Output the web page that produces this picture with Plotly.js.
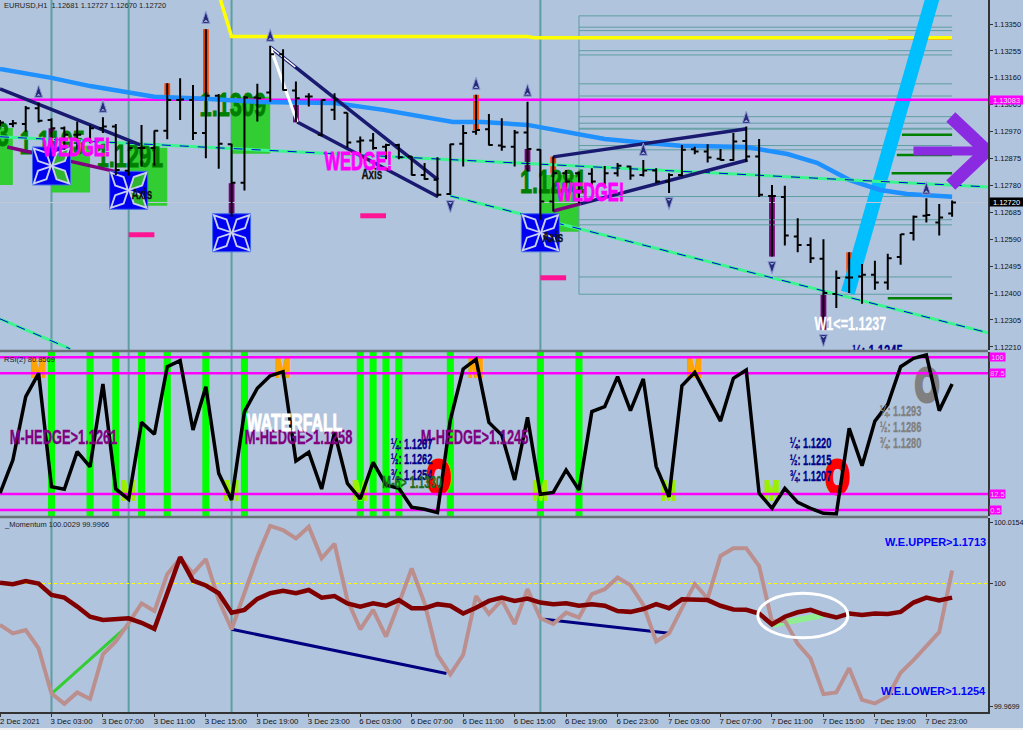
<!DOCTYPE html>
<html><head><meta charset="utf-8">
<script src="https://cdn.plot.ly/plotly-3.0.1.min.js"></script>
<style>html,body{margin:0;padding:0;background:#B0C4DE}#c{width:1023px;height:730px}</style>
</head><body><div id="c"></div>
<script>
// ---- data; bar index 0 = 3 Dec 03:00, one bar per hour of trading
const open=[1.13000,1.12997,1.12997,1.13053,1.13011,1.12982,1.12959,1.12941,1.12982,1.12988,1.12832,1.12912,1.12912,1.12973,1.13082,1.13082,1.12965,1.13097,1.12926,1.12790,1.13091,1.13108,1.13243,1.13115,1.13094,1.12959,1.13047,1.13037,1.12935,1.12939,1.12917,1.12923,1.12882,1.12817,1.12800,1.12750,1.12927,1.12970,1.12979,1.12921,1.12917,1.12967,1.12906,1.12723,1.12823,1.12823,1.12821,1.12782,1.12823,1.12847,1.12817,1.12833,1.12794,1.12817,1.12908,1.12900,1.12874,1.12870,1.12937,1.12882,1.12743,1.12739,1.12600,1.12570,1.12521,1.12397,1.12455,1.12459,1.12465,1.12437,1.12527,1.12612,1.12673,1.12649,1.12681];
const high=[1.13011,1.13011,1.13061,1.13073,1.13017,1.12988,1.13006,1.12994,1.13021,1.12997,1.12935,1.12994,1.12974,1.13141,1.13159,1.13135,1.13332,1.13103,1.12927,1.13096,1.13139,1.13273,1.13261,1.13147,1.13106,1.13084,1.13106,1.13037,1.12953,1.12965,1.12927,1.12927,1.12884,1.12859,1.12880,1.12927,1.12994,1.13100,1.13032,1.13017,1.12976,1.13076,1.12908,1.12882,1.12835,1.12829,1.12841,1.12849,1.12859,1.12850,1.12870,1.12841,1.12823,1.12923,1.12917,1.12926,1.12909,1.12965,1.12988,1.12944,1.12782,1.12779,1.12664,1.12596,1.12590,1.12480,1.12544,1.12503,1.12514,1.12539,1.12609,1.12674,1.12735,1.12715,1.12727];
const low=[1.12990,1.12986,1.12970,1.13002,1.12917,1.12906,1.12906,1.12929,1.12965,1.12817,1.12814,1.12847,1.12850,1.12943,1.13011,1.12941,1.12876,1.12839,1.12670,1.12762,1.13006,1.13076,1.13115,1.13003,1.13059,1.12953,1.13011,1.12912,1.12882,1.12906,1.12873,1.12873,1.12815,1.12800,1.12741,1.12747,1.12847,1.12959,1.12921,1.12903,1.12847,1.12829,1.12659,1.12688,1.12753,1.12717,1.12782,1.12776,1.12812,1.12800,1.12812,1.12788,1.12753,1.12812,1.12890,1.12861,1.12868,1.12867,1.12864,1.12739,1.12529,1.12568,1.12544,1.12506,1.12270,1.12347,1.12400,1.12362,1.12412,1.12412,1.12500,1.12586,1.12649,1.12603,1.12670];
const close=[1.13002,1.13000,1.13053,1.13009,1.12982,1.12959,1.12959,1.12982,1.12988,1.12835,1.12912,1.12912,1.12973,1.13082,1.13084,1.12965,1.13097,1.12927,1.12790,1.13091,1.13088,1.13243,1.13117,1.13088,1.13094,1.13082,1.13084,1.12932,1.12939,1.12912,1.12923,1.12880,1.12817,1.12803,1.12747,1.12926,1.12965,1.12976,1.12923,1.12917,1.12967,1.12909,1.12723,1.12823,1.12794,1.12759,1.12794,1.12823,1.12850,1.12815,1.12833,1.12794,1.12817,1.12906,1.12900,1.12879,1.12870,1.12935,1.12882,1.12747,1.12743,1.12603,1.12570,1.12523,1.12400,1.12453,1.12455,1.12465,1.12437,1.12523,1.12608,1.12670,1.12676,1.12667,1.12720];
const rsi=[12.9,33.6,73,87.5,17,15.4,38.8,29.4,80.8,15.6,9.2,57,49.6,91.6,95.4,52.3,79.2,25.3,8.7,63.7,78.2,86,88.5,33,38.4,15.6,50.8,19.1,9.4,32.2,18.1,16,4.2,3,0.9,58.5,90.2,96.2,57,49.1,21.2,60.1,12.3,13.5,27.4,15,63.7,66.8,85.4,64.3,84,29.5,10.8,79.8,88.1,73,57.8,84.4,89.6,12.9,3.6,16,7.3,3.6,0.5,0.1,53.3,30.1,57.8,68.2,91.6,96.8,98.9,64.3,80.9];
const momentum=[99.9900,99.9879,99.9887,99.9842,99.9731,99.9705,99.9733,99.9717,99.9827,99.9859,99.9904,99.9953,99.9934,100.0025,100.0064,100.0027,100.0062,99.9961,99.9889,99.9978,100.0068,100.0144,100.0134,100.0113,100.0142,100.0064,100.0100,99.9961,99.9889,99.9937,99.9871,99.9953,100.0039,99.9953,99.9826,99.9778,99.9826,99.9971,99.9927,99.9961,99.9902,99.9988,99.9916,99.9902,99.9930,99.9918,99.9976,99.9988,100.0017,99.9998,99.9949,99.9859,99.9879,99.9941,100.0001,99.9965,100.0070,100.0089,100.0089,100.0045,99.9908,99.9910,99.9853,99.9817,99.9729,99.9733,99.9793,99.9715,99.9706,99.9723,99.9782,99.9813,99.9846,99.9882,100.0034];
const momSignal=[100.0004,100.0000,100.0008,100.0002,99.9974,99.9967,99.9945,99.9920,99.9912,99.9914,99.9916,99.9905,99.9890,99.9978,100.0067,100.0009,99.9997,99.9978,99.9930,99.9937,99.9964,99.9978,99.9984,99.9978,99.9986,99.9967,99.9971,99.9953,99.9945,99.9953,99.9947,99.9961,99.9941,99.9941,99.9951,99.9947,99.9928,99.9942,99.9959,99.9967,99.9959,99.9965,99.9955,99.9951,99.9953,99.9947,99.9951,99.9947,99.9934,99.9932,99.9939,99.9951,99.9941,99.9963,99.9963,99.9961,99.9947,99.9938,99.9937,99.9928,99.9901,99.9920,99.9931,99.9937,99.9926,99.9918,99.9928,99.9924,99.9928,99.9927,99.9932,99.9955,99.9967,99.9960,99.9967];
const firstBar=-4;
const xTickBars=[-4,0,4,8,12,16,20,24,28,32,36,40,44,48,52,56,60,64,68];
const xTickLabels=["2 Dec 2021","3 Dec 03:00","3 Dec 07:00","3 Dec 11:00","3 Dec 15:00","3 Dec 19:00","3 Dec 23:00","6 Dec 03:00","6 Dec 07:00","6 Dec 11:00","6 Dec 15:00","6 Dec 19:00","6 Dec 23:00","7 Dec 03:00","7 Dec 07:00","7 Dec 11:00","7 Dec 15:00","7 Dec 19:00","7 Dec 23:00"];
const priceTicks=[1.13350,1.13255,1.13160,1.13065,1.12970,1.12875,1.12780,1.12685,1.12590,1.12495,1.12400,1.12305,1.12210];
const rsiLevels=[97.5,87.5,12.5,2.5];
const rsiLevelLabels=["100","87.5","12.5","0.5"];
const vLineBars=[0,6,14,38];
const orangeBars=[9,12,33,39,62], orangeTop=[1.13141,1.13332,1.13100,1.12882,1.12544], orangeBottom=[1.13094,1.13097,1.12976,1.12823,1.12455];
const purpleBars=[0,14,19,37,56,60], purpleTop=[1.12982,1.12788,1.13064,1.12909,1.12741,1.12394], purpleBottom=[1.12917,1.12670,1.13003,1.12829,1.12529,1.12270];
const zoneCenters=[-4.5,1.5,7.5,15.5,39.5], zoneTop=[1.12983,1.12920,1.12913,1.13093,1.12817], zoneBottom=[1.12782,1.12755,1.12708,1.12892,1.12617];
const signalBars=[0,3,5,7,9,12,15,24,25,26,27,31,38,41];
const maBars=[-4,0,3,6,8,12,16,22,25.8,31.2,33.5,37,41,43,46.3,48.9,54,57.2,59.5,62,64.4,66.5,70];
const maValues=[1.13191,1.13160,1.13131,1.13107,1.13093,1.13086,1.13075,1.13071,1.13047,1.13004,1.13004,1.12994,1.12959,1.12944,1.12930,1.12920,1.12916,1.12891,1.12860,1.12800,1.12764,1.12750,1.12740];
const fibLevels=[1.13379,1.13339,1.13327,1.13256,1.13241,1.13139,1.13096,1.13023,1.13000,1.12982,1.12979,1.12921,1.12906,1.12741,1.12659,1.12641,1.12457,1.12396];
const greenLevelStart=[66.1,65.7,65.3,65], greenLevels=[1.12959,1.12888,1.12823,1.12382];
const fractalUpBars=[-1,4,12,17,33,37,46,54,68], fractalUp=[1.13135,1.13082,1.13396,1.13333,1.13163,1.13139,1.12930,1.13043,1.12793];
const fractalDownBars=[31,56,60,48], fractalDown=[1.12683,1.12468,1.12210,1.12694];
const iconBars=[0,6,14,38], iconPrices=[1.12849,1.12763,1.12613,1.12613];
const pinkStart=[6,24,38], pinkEnd=[8,26,40], pinkLevels=[1.12606,1.12673,1.12454];

// ---- trace helpers
const barIndex=open.map((_,k)=>k+firstBar);
const BOLD='Liberation Sans', X0=-4, X1=72.79, BG='#B0C4DE';
const T=[];
function seg(x,y,color,width,axis,dash){T.push({type:'scatter',mode:'lines',x:x,y:y,yaxis:axis||'y',line:{color:color,width:width,dash:dash||'solid'},hoverinfo:'skip',connectgaps:false});}
function blocks(x,top,bottom,color,w,axis){T.push({type:'bar',x:x,base:bottom,y:top.map((t,k)=>t-bottom[k]),width:w,yaxis:axis||'y',marker:{color:color,line:{width:0}},hoverinfo:'skip'});}
function label(x,y,text,color,size,axis){T.push({type:'scatter',mode:'text',x:x,y:y,text:text,yaxis:axis||'y',textposition:'middle center',textfont:{family:BOLD,size:size,color:color,weight:700},hoverinfo:'skip'});}

// price panel: under-layer
blocks(zoneCenters,zoneTop,zoneBottom,'#32CD32',3);
blocks(orangeBars,orangeTop,orangeBottom,'#FF4500',0.45);
blocks(purpleBars,purpleTop,purpleBottom,'#800080',0.45);
label([-5.9,0.06,6.1,14.1,39],[1.12950,1.12920,1.12874,1.13054,1.12782],["1.1283","1.1195","1.1291","1.1309","1.1281"],'#008000',33);
// fibo
{const fx=[],fy=[];fibLevels.forEach(v=>{fx.push(41,70,null);fy.push(v,v,null);});fx.push(41,41);fy.push(fibLevels[0],fibLevels[fibLevels.length-1]);seg(fx,fy,'#5F9EA0',1);}
{const gx=[],gy=[];greenLevels.forEach((v,k)=>{gx.push(greenLevelStart[k],70,null);gy.push(v,v,null);});seg(gx,gy,'#008000',2.5);}
seg([65,70],[1.13296,1.13296],'#E8742A',1.5);
seg([13,14,37,37.5,70],[1.13456,1.13306,1.13306,1.13302,1.13302],'#FFFF00',3.5);
seg([61.9,68.97],[1.12401,1.13520],'#00BFFF',14);
seg([X0,X1],[1.13083,1.13083],'#FF00FF',2.5);
seg([X0,X1],[1.12720,1.12720],'#C0C8D8',1);
seg(maBars,maValues,'#1E90FF',4.5);
// channel lines
[[[X0,72.79],[1.12952,1.12775]],[[31,72.79],[1.12743,1.12260]],[[X0,1.46],[1.12309,1.12203]]].forEach(l=>{seg(l[0],l[1],'#3CF58E',3);seg(l[0],l[1],'#0000E0',1,'y','dash');});
// wedges
seg([X0,6.9],[1.13121,1.12923],'#191970',3.5);
seg([-3.43,5.1],[1.12916,1.12828],'#800080',3.5);
seg([17,30.05],[1.13269,1.12800],'#191970',3.5);
seg([19.1,30.05],[1.13004,1.12740],'#191970',3.5);
seg([17,19.1],[1.13269,1.13004],'#FFFFFF',3);
seg([17,18.95],[1.13269,1.13199],'#FFFFFF',1.5);
seg([39,54.05],[1.12881,1.12980],'#191970',3.5);
seg([41.1,54.1],[1.12715,1.12870],'#191970',3.5);
seg([39,41.1],[1.12690,1.12715],'#800080',3.5);
// pink dashes
pinkLevels.forEach((v,k)=>seg([pinkStart[k],pinkEnd[k]],[v,v],'#FF1493',5));
// big purple arrow
seg([67,72.7],[1.12902,1.12902],'#8A2BE2',9);
seg([69.9,72.7,69.9],[1.13022,1.12902,1.12782],'#8A2BE2',13);
// fractal arrows, each with a notch cut in its tail
T.push({type:'scatter',mode:'markers',x:fractalUpBars,y:fractalUp,marker:{symbol:'arrow',size:13,color:'#27297A',line:{color:'#8C9BD0',width:1}},hoverinfo:'skip'});
T.push({type:'scatter',mode:'markers',x:fractalDownBars,y:fractalDown,marker:{symbol:'arrow',angle:180,size:13,color:'#27297A',line:{color:'#8C9BD0',width:1}},hoverinfo:'skip'});
T.push({type:'scatter',mode:'markers',x:fractalUpBars,y:fractalUp.map(p=>p-0.00031),marker:{symbol:'arrow-wide',size:4.5,color:BG},hoverinfo:'skip'});
T.push({type:'scatter',mode:'markers',x:fractalDownBars,y:fractalDown.map(p=>p+0.00031),marker:{symbol:'arrow-wide',angle:180,size:4.5,color:BG},hoverinfo:'skip'});
// blue icons
T.push({type:'scatter',mode:'markers',x:iconBars,y:iconPrices,marker:{symbol:'square',size:38,color:'#0000F0',line:{color:'#3F6AE8',width:1}},hoverinfo:'skip'});
[[-1,1,-45],[1,1,45],[-1,-1,45],[1,-1,-45]].forEach(q=>{
  const lx=iconBars.map(b=>b+q[0]*0.72), ly=iconPrices.map(p=>p+q[1]*0.00032);
  T.push({type:'scatter',mode:'markers',x:lx,y:ly,marker:{symbol:'diamond-tall',angle:q[2],size:20,color:'#C8D0F0'},hoverinfo:'skip'});
  T.push({type:'scatter',mode:'markers',x:lx,y:ly,marker:{symbol:'diamond-tall',angle:q[2],size:14,color:iconBars.map(b=>(q[0]>0&&b<10)?'#2FB52F':'#0000F0')},hoverinfo:'skip'});
});
// bars above everything in the price panel
T.push({type:'ohlc',x:barIndex,open:open,high:high,low:low,close:close,yaxis:'y4',tickwidth:0.3,increasing:{line:{color:'#000000',width:2}},decreasing:{line:{color:'#000000',width:2}},hoverinfo:'skip'});
label([64.2],[1.12189],["¼: 1.1245"],'#00008B',17);

// RSI panel
T.push({type:'bar',x:signalBars,y:signalBars.map(()=>104),base:signalBars.map(()=>-2),width:0.55,yaxis:'y2',marker:{color:'#00FF00',line:{width:0}},hoverinfo:'skip'});
label([-1,18,33,50],[89.6,89.6,89.6,89.6],["M","M","M","M"],'#FFA500',28,'y2');
label([6,14,24,38,48,56],[13.2,13.2,13.2,13.2,13.2,13.2],["M","M","M","M","M","M"],'#9AF000',28,'y2');
label([30.1,61.1],[20.3,20.3],["O","O"],'#FF0000',46,'y2');
label([68.05],[77.7],["O"],'#808080',46,'y2');
rsiLevels.forEach(v=>seg([X0,X1],[v,v],'#FF00FF',2.5,'y2'));
seg(barIndex,rsi,'#000000',3.5,'y2');

// Momentum panel
seg([X0,X1],[100.0002,100.0002],'#FFFF00',1,'y3','3px,3px');
seg([0.1,6],[99.9733,99.9900],'#32CD32',3,'y3');
seg([14,30.7],[99.9889,99.9780],'#000080',3,'y3');
seg([38.3,48],[99.9914,99.9879],'#000080',3,'y3');
seg([56,60],[99.9900,99.9924],'#90EE90',6,'y3');
seg(barIndex,momentum,'#BC8F8F',4,'y3');
seg(barIndex,momSignal,'#800000',4.5,'y3');

// ---- annotations
function A(x,y,text,color,size,yref,extra){return Object.assign({x:x,y:y,xref:'x',yref:yref||'y',text:text,showarrow:false,font:{family:BOLD,size:size,color:color,weight:700},xanchor:'center',yanchor:'middle'},extra||{});}
function tag(text,bg,fg,yref,val,extra){return Object.assign({xref:'paper',yref:yref,x:1,y:val,xanchor:'left',yanchor:'middle',xshift:1,text:text,showarrow:false,bgcolor:bg,borderpad:0,font:{family:'Liberation Sans',size:7.5,color:fg}},extra||{});}
function head(text,paperY){return {xref:'paper',yref:'paper',x:0,y:paperY,xanchor:'left',yanchor:'middle',xshift:2,text:text,showarrow:false,font:{family:'Liberation Sans',size:7.5,color:'#222222'}};}
const ann=[
 head('EURUSD,H1  1.12681 1.12727 1.12670 1.12720',1-6/712),
 head('RSI(2) 80.8569',1-359/712),
 head('_Momentum 100.0029 99.9966',1-524/712),
 A(1.93,1.12916,'WEDGE!','#FF00FF',25),A(23.9,1.12867,'WEDGE!','#FF00FF',25),A(41.9,1.12757,'WEDGE!','#FF00FF',25),
 A(24.9,1.12821,'Axis','#111111',15),A(7.05,1.12750,'Axis','#111111',15),A(39,1.12599,'Axis','#111111',15),
 A(62.07,1.12292,'W1<=1.1237','#FFFFFF',19),
 A(0.96,47.9,'M-HEDGE>1.1261','#800080',19.5,'y2'),A(19.2,47.9,'M-HEDGE>1.1258','#800080',19.5,'y2'),A(32.9,47.9,'M-HEDGE>1.1245','#800080',19.5,'y2'),
 A(18.9,57.2,'WATERFALL','#FFFFFF',24,'y2'),
 A(27.96,43.6,'¼: 1.1267','#00008B',14,'y2'),A(27.96,34.2,'½: 1.1262','#00008B',14,'y2'),A(27.96,24.3,'¾: 1.1254','#00008B',14,'y2'),
 A(28,19.9,'M-6> 1.1330','#1F6B1F',16,'y2'),
 A(59,44.2,'¼: 1.1220','#00008B',14,'y2'),A(59,33.6,'½: 1.1215','#00008B',14,'y2'),A(59,23.7,'¾: 1.1207','#00008B',14,'y2'),
 A(66,64.1,'¼: 1.1293','#808080',14,'y2'),A(66,54.1,'½: 1.1286','#808080',14,'y2'),A(66,44.2,'¾: 1.1280','#808080',14,'y2'),
 A(72.79,100.0104,'W.E.UPPER>1.1713','#0000FF',11,'y3',{xanchor:'right'}),
 A(72.79,99.9737,'W.E.LOWER>1.1254','#0000FF',11,'y3',{xanchor:'right'}),
 tag('1.13083','#FF00FF','#E8E0F0','y',1.13083,{width:33,height:8}),
 tag('1.12720','#000000','#FFFFFF','y',1.12720,{width:33,height:8}),
 tag(rsiLevelLabels[0],'#FF00FF','#D8D0E8','y2',rsiLevels[0],{width:15,height:8}),
 tag(rsiLevelLabels[1],'#FF00FF','#D8D0E8','y2',rsiLevels[1],{width:15,height:8}),
 tag(rsiLevelLabels[2],'#FF00FF','#D8D0E8','y2',rsiLevels[2],{width:15,height:8}),
 tag(rsiLevelLabels[3],'#FF00FF','#D8D0E8','y2',rsiLevels[3],{width:11,height:8})
];

const shapes=vLineBars.map(b=>({type:'line',layer:'below',xref:'x',yref:'paper',x0:b,x1:b,y0:0,y1:1,line:{color:'#5F9EA0',width:2}}));
[351,517].forEach(py=>shapes.push({type:'line',layer:'above',xref:'paper',yref:'paper',x0:0,x1:1,y0:1-py/712,y1:1-py/712,line:{color:'#6A7078',width:2.5}}));
shapes.push({type:'circle',layer:'above',xref:'x',yref:'y3',x0:54.9,x1:61.9,y0:99.9868,y1:99.9978,line:{color:'#FFFFFF',width:3}});
shapes.push({type:'rect',layer:'above',xref:'paper',yref:'paper',x0:0,x1:1.05,y0:-18/712,y1:-16/712,line:{width:0},fillcolor:'#F0F0F0'});

const tf={family:'Liberation Sans',size:7.5,color:'#111111'};
const yBase={side:'right',anchor:'x',showgrid:false,zeroline:false,showline:true,linecolor:'#333333',linewidth:1.5,ticks:'outside',ticklen:3,tickcolor:'#333333',tickfont:tf,tickmode:'array',fixedrange:true};
const priceRange=[1.12199,1.13435];
const layout={
 width:1023,height:730,margin:{l:0,r:35,t:0,b:18,pad:0},
 paper_bgcolor:BG,plot_bgcolor:BG,showlegend:false,barmode:'overlay',
 xaxis:{range:[X0,X1],anchor:'y3',domain:[0,1],showgrid:false,zeroline:false,showline:true,linecolor:'#333333',linewidth:1.5,ticks:'outside',ticklen:3,tickcolor:'#333333',tickmode:'array',tickvals:xTickBars,ticktext:xTickLabels,tickangle:0,tickfont:Object.assign({},tf,{size:7.8}),ticklabelshift:20,ticklabelstandoff:-2,ticklabeloverflow:'allow',rangeslider:{visible:false},fixedrange:true},
 yaxis:Object.assign({},yBase,{domain:[1-350/712,1],range:priceRange,tickvals:priceTicks,ticktext:priceTicks.map(v=>v.toFixed(5))}),
 yaxis2:Object.assign({},yBase,{domain:[1-516/712,1-352/712],range:[-1.19,100.74],tickvals:[],showticklabels:false}),
 yaxis3:Object.assign({},yBase,{domain:[0,1-518/712],range:[99.96849,100.01636],tickvals:[100.0153,100.0002,99.9698],ticktext:['100.0154','100','99.9699'],tickfont:Object.assign({},tf,{size:7.1})}),
 yaxis4:{overlaying:'y',side:'right',anchor:'x',range:priceRange,visible:false,fixedrange:true},
 annotations:ann,shapes:shapes
};
Plotly.newPlot('c',T,layout,{displayModeBar:false,staticPlot:true}).then(()=>{
  // the reference lettering is a heavy condensed poster face: squeeze bold text around its centre and thicken it
  document.querySelectorAll('.annotation-text, .textpoint text').forEach(t=>{
    const cs=getComputedStyle(t);
    if(cs.fontWeight<600||t.textContent.startsWith('W.E.'))return;
    const size=parseFloat(cs.fontSize);
    const b=t.getBBox(),cx=b.x+b.width/2,prev=t.getAttribute('transform')||'';
    t.setAttribute('transform',prev+' translate('+cx+',0) scale(0.66,1) translate('+(-cx)+',0)');
    const w=size>=40?5:(t.textContent==='M'?2:(size>=20?0.9:0.3));
    t.style.stroke=cs.fill;t.style.strokeWidth=w+'px';
  });
});
</script></body></html>
